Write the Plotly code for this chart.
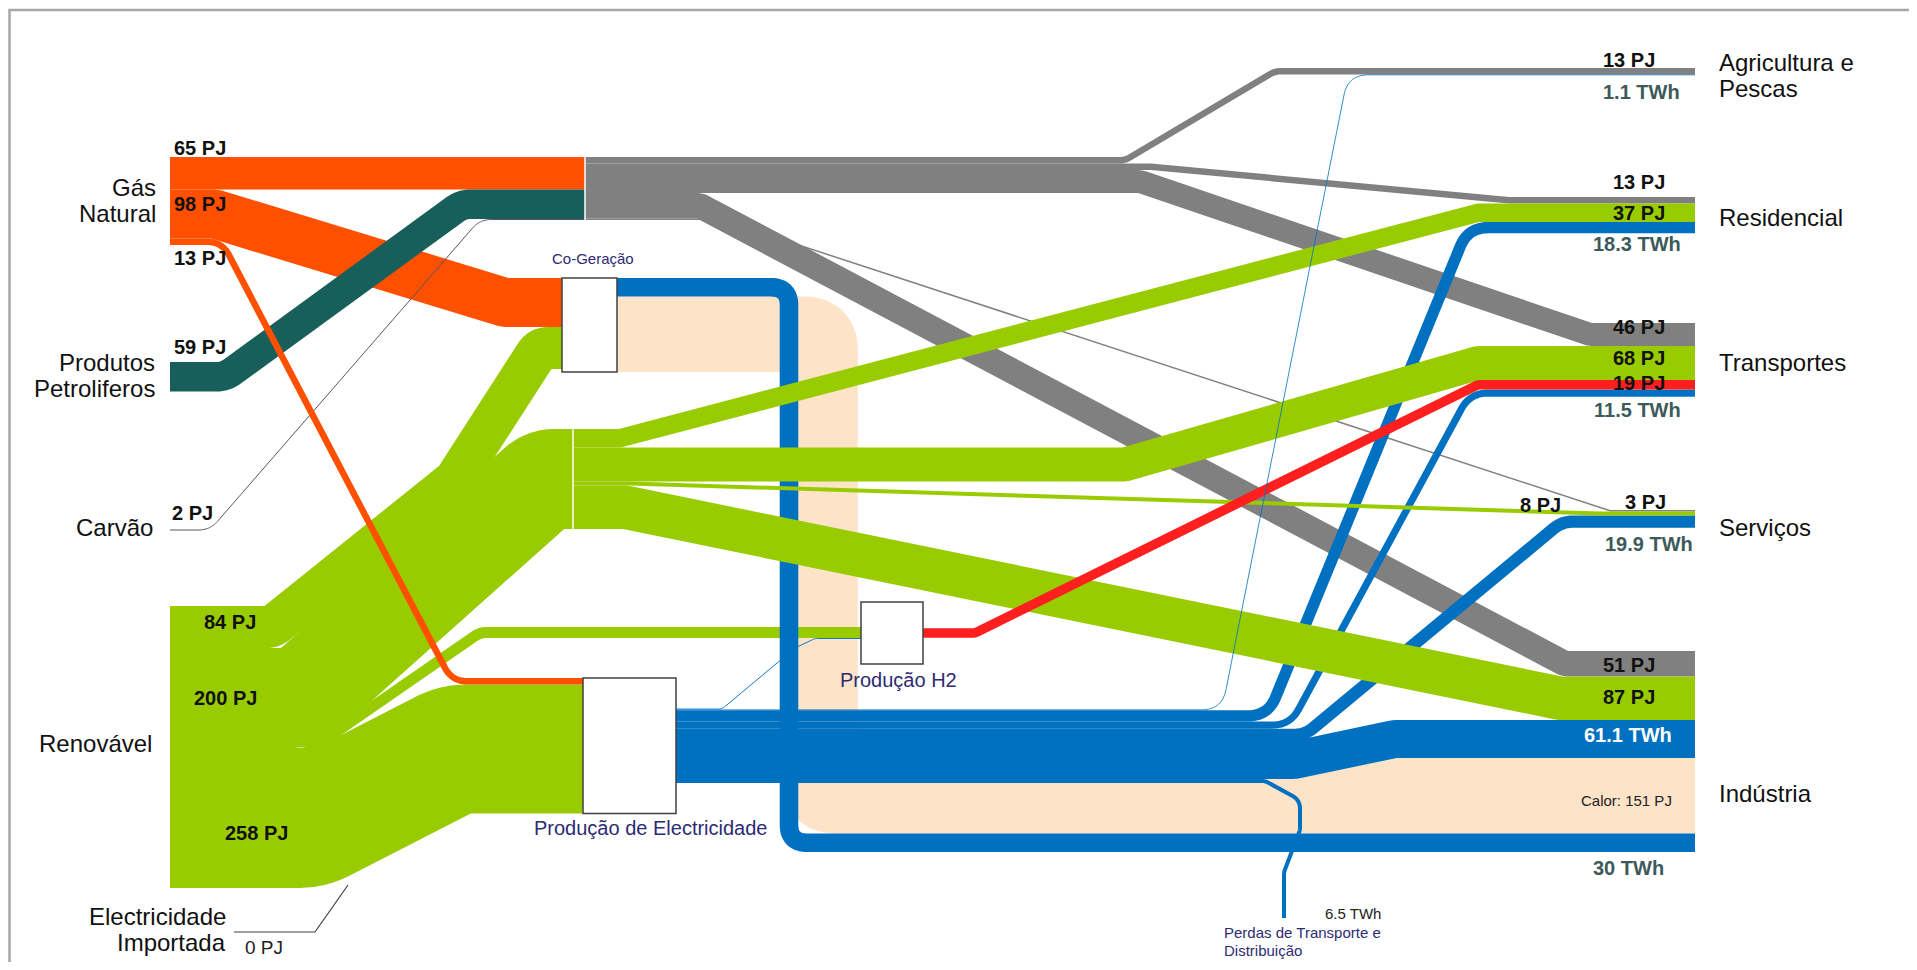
import numpy as np
import plotly.graph_objects as go

# ======================= DATA =======================
# Flows of the energy balance
flow_source = ["gas", "gas", "gas", "petro", "coal", "ren", "ren", "ren", "ren",
               "fossil", "fossil", "fossil", "fossil", "fossil",
               "renf", "renf", "renf", "renf",
               "cogen", "cogen",
               "pelec", "pelec", "pelec", "pelec", "pelec", "pelec", "pelec",
               "h2"]
flow_target = ["fossil", "cogen", "pelec", "fossil", "fossil", "cogen", "renf", "h2", "pelec",
               "agri", "res", "trans", "ind", "serv",
               "res", "trans", "serv", "ind",
               "ind", "ind",
               "h2", "agri", "res", "trans", "serv", "ind", "loss",
               "trans"]
flow_value = [65, 98, 13, 59, 2, 84, 200, 22, 258,
              13, 13, 46, 51, 3,
              37, 68, 8, 87,
              30, 151,
              1.5, 1.1, 18.3, 11.5, 19.9, 61.1, 6.5,
              19]
flow_unit = (["PJ"] * 18) + ["TWh", "PJ"] + (["TWh"] * 7) + ["PJ"]
flow_carrier = ["gas", "gas", "gas", "petro", "coal", "renew", "renew", "renew", "renew",
                "fossil", "fossil", "fossil", "fossil", "fossil",
                "renew", "renew", "renew", "renew",
                "elec", "heat",
                "elec", "elec", "elec", "elec", "elec", "elec", "elec",
                "h2"]

source_labels = ["Gás<br>Natural", "Produtos<br>Petroliferos", "Carvão", "Renovável",
                 "Electricidade<br>Importada"]
sector_labels = ["Agricultura e<br>Pescas", "Residencial", "Transportes", "Serviços", "Indústria"]
process_labels = ["Co-Geração", "Produção de Electricidade", "Produção H2",
                  "Perdas de Transporte e<br>Distribuição"]
imported_electricity_pj = 0

# ======================= STYLE / LAYOUT =======================
FONT = "Liberation Sans, Arial, sans-serif"
PX_PER = {"PJ": 0.5, "TWh": 0.62}
COLORS = {"gas": "#FF5000", "petro": "#185F5B", "coal": "#5E5462", "fossil": "#808080",
          "renew": "#99CC00", "elec": "#0070C0", "heat": "#FDE3C8", "h2": "#FF1F1F"}
NAVY = "#2D2B73"
SLATE = "#3D5A5A"

NODE = {
    "gas": dict(x1=170, top=157), "petro": dict(x1=170, top=362),
    "coal": dict(x1=170, top=529.5), "ren": dict(x1=170, top=606),
    "fossil": dict(x0=585, x1=585, top=157), "renf": dict(x0=573, x1=573, top=429),
    "cogen": dict(x0=562, x1=617, top=278, box=True),
    "pelec": dict(x0=583, x1=676, top=678, box=True, center_out=True),
    "h2": dict(x0=861, x1=923, top=602, box=True, height=62, center_in=True, center_out=True),
    "agri": dict(x0=1695, top=68), "res": dict(x0=1695, top=197),
    "trans": dict(x0=1695, top=323), "serv": dict(x0=1695, top=510),
    "ind": dict(x0=1695, top=651), "loss": dict(point=(1284, 918)),
}
IN_ORDER = {
    "trans": [("fossil", "fossil"), ("renf", "renew"), ("h2", "h2"), ("pelec", "elec")],
    "ind": [("fossil", "fossil"), ("renf", "renew"), ("pelec", "elec"), ("cogen", "heat"), ("cogen", "elec")],
}
ROUTE = [
    [], [("s", 215), ("t", 505)], [("s", 222), ("t", 452)], [("s", 225), ("t", 462)],
    [("s", 210), ("t", 480)], [("s", 272), (455, 480), ("t", 540)], [("s", 300), ("t", 545)],
    [("s", 305), ("t", 480)], [("s", 310), ("t", 455)],
    [("s", 1125), ("t", 1275)], [("s", 1150), ("t", 1510)], [("s", 1140), ("t", 1590)],
    [("s", 700), ("t", 1565)], [("s", 720), ("t", 1610)],
    [("s", 620), ("t", 1478)], [("s", 1125), ("t", 1478)], [("s", 630), ("t", 1600)],
    [("s", 625), ("t", 1560)],
    [("s", 789), ("t", 789)], [("s", 820), ("t", 820)],
    [("s", 722), (795, 648), ("t", 815)], [("s", 1222), ("t", 1348)], [("s", 1268), ("t", 1468)],
    [("s", 1290), ("t", 1470)], [("s", 1305), ("t", 1562)], [("s", 1295), ("t", 1395)],
    [("s", 1265), (1300, 800), (1300, 830), (1284, 872)],
    [("s", 975), ("t", 1478)],
]
RADIUS = [0, 20, 25, 25, 25, 15, 25, 20, 50, 20, 20, 20, 15, 10, 10, 20, 10, 10,
          18, 15, 12, 25, 30, 30, 30, 20, 15, 10]
DRAW_ORDER = [19, 9, 10, 11, 12, 13, 0, 1, 3, 4, 5, 6, 7, 8, 18, 22, 23, 24, 25, 26, 20,
              14, 15, 16, 17, 27, 2, 21]

N = len(flow_value)
th = [flow_value[i] * PX_PER[flow_unit[i]] for i in range(N)]


def in_flows(n):
    if n in IN_ORDER:
        out = []
        for s, c in IN_ORDER[n]:
            out += [i for i in range(N) if flow_target[i] == n and flow_source[i] == s
                    and flow_carrier[i] == c]
        return out
    return [i for i in range(N) if flow_target[i] == n]


def out_flows(n):
    return [i for i in range(N) if flow_source[i] == n]


ys = [None] * N
yt = [None] * N
for n, spec in NODE.items():
    if "point" in spec:
        continue
    outs, ins = out_flows(n), in_flows(n)
    so = sum(th[i] for i in outs)
    si = sum(th[i] for i in ins)
    H = spec.get("height", max(so, si))
    spec["H"] = H
    o = spec["top"] + ((H - so) / 2 if spec.get("center_out") else 0)
    for i in outs:
        ys[i] = o + th[i] / 2
        o += th[i]
    o = spec["top"] + ((H - si) / 2 if spec.get("center_in") else 0)
    for i in ins:
        yt[i] = o + th[i] / 2
        o += th[i]


def rounded(pts, r):
    pts = [np.array(p, dtype=float) for p in pts]
    out = [pts[0]]
    for k in range(1, len(pts) - 1):
        A, P, B = pts[k - 1], pts[k], pts[k + 1]
        d1, d2 = P - A, B - P
        l1, l2 = np.linalg.norm(d1), np.linalg.norm(d2)
        if l1 < 1e-9 or l2 < 1e-9 or r <= 0:
            out.append(P)
            continue
        u1, u2 = d1 / l1, d2 / l2
        ang = np.arccos(np.clip(np.dot(-u1, u2), -1, 1))
        if abs(np.pi - ang) < 1e-3:
            out.append(P)
            continue
        t = min(r / np.tan(ang / 2), l1 / 2, l2 / 2)
        T1, T2 = P - u1 * t, P + u2 * t
        for s in np.linspace(0, 1, 18):
            out.append((1 - s) ** 2 * T1 + 2 * (1 - s) * s * P + s ** 2 * T2)
    out.append(pts[-1])
    return np.array(out)


def flow_path(i):
    s, t = NODE[flow_source[i]], NODE[flow_target[i]]
    p0 = (s["x1"], ys[i])
    pend = t["point"] if "point" in t else (t["x0"], yt[i])
    pts = [p0]
    for w in ROUTE[i]:
        if w[0] == "s":
            pts.append((w[1], ys[i]))
        elif w[0] == "t":
            pts.append((w[1], yt[i]))
        else:
            pts.append(w)
    pts.append(pend)
    return rounded(pts, RADIUS[i])


fig = go.Figure()
for i in DRAW_ORDER:
    p = flow_path(i)
    fig.add_trace(go.Scatter(x=p[:, 0], y=p[:, 1], mode="lines",
                             line=dict(color=COLORS[flow_carrier[i]], width=max(th[i], 0.8),
                                       simplify=False),
                             hoverinfo="skip", showlegend=False))

shapes = []
# process boxes
for n in ["cogen", "pelec", "h2"]:
    sp = NODE[n]
    shapes.append(dict(type="rect", x0=sp["x0"], x1=sp["x1"], y0=sp["top"], y1=sp["top"] + sp["H"],
                       xref="x", yref="y", fillcolor="white",
                       line=dict(color="#404040", width=1.5), layer="above"))
# white separators at hubs
for n in ["fossil", "renf"]:
    sp = NODE[n]
    shapes.append(dict(type="line", x0=sp["x0"], x1=sp["x0"], y0=sp["top"], y1=sp["top"] + sp["H"],
                       xref="x", yref="y", line=dict(color="white", width=1.5), layer="above"))
# leader for imported electricity
shapes.append(dict(type="path", path="M 234 932 L 315 932 L 348 885", xref="x", yref="y",
                   line=dict(color="#404040", width=1.2), layer="above"))
# frame
shapes.append(dict(type="path", path="M 9.5 975 L 9.5 10 L 1925 10", xref="x", yref="y",
                   line=dict(color="#A6A6A6", width=2.5), layer="above"))

ann = []


def txt(text, x, y, anchor="left", size=20, color="#111111", bold=False, yanchor="middle"):
    ann.append(dict(text=("<b>%s</b>" % text) if bold else text, x=x, y=y, xref="x", yref="y",
                    xanchor=anchor, yanchor=yanchor, showarrow=False,
                    font=dict(family=FONT, size=size, color=color)))


def multiline(label, x, y_center, anchor, size, color, spacing):
    lines = label.split("<br>")
    y0 = y_center - spacing * (len(lines) - 1) / 2
    for k, ln in enumerate(lines):
        txt(ln, x, y0 + k * spacing, anchor, size, color)


# source labels
src_pos = [(158, 200), (157, 375), (155, 527), (154, 743), (228, 929)]
for lab, (x, y) in zip(source_labels, src_pos):
    multiline(lab, x, y, "right", 24, "#111111", 26)
# sector labels
sec_pos = [75, 217, 362, 527, 793]
for lab, y in zip(sector_labels, sec_pos):
    multiline(lab, 1717, y, "left", 24, "#111111", 26)
# process labels
txt(process_labels[0], 593, 258, "center", 15, NAVY)
txt(process_labels[1], 532, 828, "left", 20, NAVY)
txt(process_labels[2], 838, 680, "left", 20, NAVY)
multiline(process_labels[3], 1222, 941, "left", 15, NAVY, 18)


def vlabel(i):
    v = flow_value[i]
    return "%s %s" % (("%g" % v), flow_unit[i])


# value labels: (flow index, x, y, anchor, color)
VAL_POS = [
    (0, 172, 148, "left", "#111111"), (1, 172, 204, "left", "#111111"),
    (2, 172, 258, "left", "#111111"), (3, 172, 347, "left", "#111111"),
    (4, 170, 513, "left", "#111111"), (5, 202, 622, "left", "#111111"),
    (6, 192, 698, "left", "#111111"), (8, 223, 833, "left", "#111111"),
    (9, 1657, 60, "right", "#111111"), (21, 1682, 92, "right", SLATE),
    (10, 1667, 182, "right", "#111111"), (14, 1667, 213, "right", "#111111"),
    (22, 1683, 244, "right", SLATE),
    (11, 1667, 327, "right", "#111111"), (15, 1667, 358, "right", "#111111"),
    (27, 1667, 383, "right", "#111111"), (23, 1683, 410, "right", SLATE),
    (16, 1518, 505, "left", "#111111"), (13, 1623, 502, "left", "#111111"),
    (24, 1695, 544, "right", SLATE),
    (12, 1657, 665, "right", "#111111"), (17, 1657, 697, "right", "#111111"),
    (25, 1674, 735, "right", "white"), (18, 1666, 868, "right", SLATE),
]
for i, x, y, a, c in VAL_POS:
    txt(vlabel(i), x, y, a, 20, c, bold=True)
txt("Calor: " + vlabel(19), 1674, 800, "right", 15, "#222222")
txt(vlabel(26), 1323, 913, "left", 15, "#222222")
txt("%g PJ" % imported_electricity_pj, 243, 947, "left", 19, "#222222")

# the page body keeps an 8px margin, so the plot area spans screen pixels 8..1909 x 8..962
fig.update_layout(
    shapes=shapes, annotations=ann,
    margin=dict(l=0, r=0, t=0, b=0),
    paper_bgcolor="white", plot_bgcolor="white",
    xaxis=dict(range=[8, 1909], visible=False, fixedrange=True),
    yaxis=dict(range=[962, 8], visible=False, fixedrange=True),
    showlegend=False,
)
fig.write_html("out.html")
